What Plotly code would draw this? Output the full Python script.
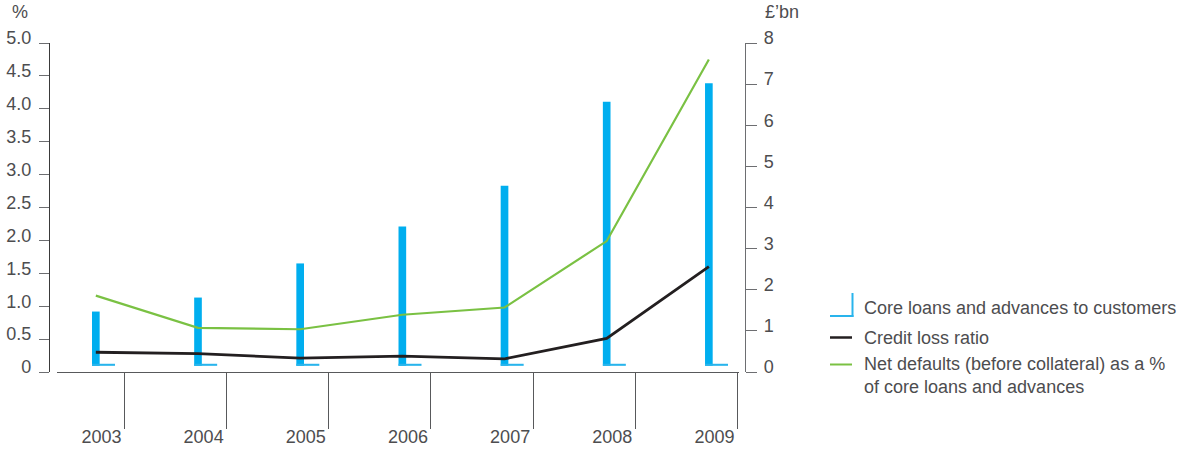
import plotly.graph_objects as go

# ---- data ----
years = [2003, 2004, 2005, 2006, 2007, 2008, 2009]
core_loans_bn = [1.47, 1.81, 2.64, 3.54, 4.53, 6.57, 7.02]        # £bn (right axis)
credit_loss_ratio = [0.30, 0.28, 0.21, 0.24, 0.20, 0.51, 1.60]    # % (left axis)
net_defaults_pct = [1.16, 0.67, 0.65, 0.87, 0.98, 1.99, 4.75]     # % (left axis)
left_ticks = [0, 0.5, 1.0, 1.5, 2.0, 2.5, 3.0, 3.5, 4.0, 4.5, 5.0]
left_labels = ["0", "0.5", "1.0", "1.5", "2.0", "2.5", "3.0", "3.5", "4.0", "4.5", "5.0"]
right_ticks = [0, 1, 2, 3, 4, 5, 6, 7, 8]
year_labels = [str(y) for y in years]

# ---- styles ----
BLUE = "#00AEEF"
FOOT_BLUE = "#29B4EC"
GREEN = "#7AC143"
BLACK = "#231F20"
TEXT = "#4D4D4F"
FONT = "Liberation Sans"
FS = 18

BAR_BASE = 0.15       # bars sit slightly above the axis in the original
BAR_W = 0.075
FOOT_W = 0.225
FOOT_H = 0.05
TICK_OFFSET = 0.28

fig = go.Figure()

# bars on the right (£bn) axis, drawn first (lower layer)
fig.add_trace(go.Bar(
    x=years, y=[v - BAR_BASE for v in core_loans_bn], base=BAR_BASE,
    width=BAR_W, marker=dict(color=BLUE, line=dict(width=0)),
    xaxis="x", yaxis="y", showlegend=False, hoverinfo="skip"))
fig.add_trace(go.Bar(
    x=years, y=[FOOT_H] * len(years), base=BAR_BASE,
    width=FOOT_W, offset=-BAR_W / 2,
    marker=dict(color=FOOT_BLUE, line=dict(width=0)),
    xaxis="x", yaxis="y", showlegend=False, hoverinfo="skip"))

# lines on the left (%) axis, overlaying
fig.add_trace(go.Scatter(
    x=years, y=net_defaults_pct, mode="lines",
    line=dict(color=GREEN, width=2.2), xaxis="x", yaxis="y2", showlegend=False))
fig.add_trace(go.Scatter(
    x=years, y=credit_loss_ratio, mode="lines",
    line=dict(color=BLACK, width=2.8), xaxis="x", yaxis="y2", showlegend=False))

L, R, T, B = 49, 435, 43, 78
pw = 1180 - L - R
XDOM = [(57 - L) / pw, (739 - L) / pw]
XRANGE = [2002.62, 2009.295]
tick_pos = [y + TICK_OFFSET for y in years]

fig.update_layout(
    width=1180, height=450,
    margin=dict(l=L, r=R, t=T, b=B, autoexpand=False),
    paper_bgcolor="white", plot_bgcolor="white",
    barmode="overlay",
    font=dict(family=FONT, size=FS, color=TEXT),
    showlegend=False,
    xaxis=dict(
        domain=XDOM, range=XRANGE,
        tickvals=tick_pos, showticklabels=False,
        ticks="outside", ticklen=56, tickwidth=1, tickcolor="#58595B",
        showline=True, linecolor="#58595B", linewidth=1,
        showgrid=False, zeroline=False, fixedrange=True, automargin=False,
    ),
    # label-only axis so the year labels sit just below the long tick lines
    xaxis2=dict(
        domain=XDOM, range=XRANGE, overlaying="x", anchor="y", side="bottom",
        tickvals=tick_pos, ticktext=year_labels,
        ticks="outside", ticklen=48, tickcolor="rgba(0,0,0,0)",
        ticklabelshift=-23,
        showline=False, showgrid=False, zeroline=False, automargin=False,
    ),
    yaxis=dict(
        range=[0, 8], tickvals=right_ticks,
        side="right", anchor="free", position=1,
        ticks="outside", ticklen=11, tickwidth=1, tickcolor="#6D6E71",
        ticklabelstandoff=3, ticklabelshift=-5,
        showline=True, linecolor="#6D6E71", linewidth=1.2,
        showgrid=False, zeroline=False, automargin=False,
    ),
    yaxis2=dict(
        range=[0, 5], tickvals=left_ticks, ticktext=left_labels,
        side="left", anchor="free", position=0, overlaying="y",
        ticks="outside", ticklen=10, tickwidth=1, tickcolor="#6D6E71",
        ticklabelstandoff=4, ticklabelshift=-5,
        showline=True, linecolor="#3A3A3A", linewidth=1.4,
        showgrid=False, zeroline=False, automargin=False,
    ),
)

# invisible trace to activate the label axis
fig.add_trace(go.Scatter(x=years, y=[None] * len(years), xaxis="x2", yaxis="y",
                         mode="markers", showlegend=False, hoverinfo="skip"))

def px_x(x):
    return (x - L) / pw

def px_y(y):
    return (450 - B - y) / (450 - T - B)

annos = [
    ("%", 20, 12, "center"),
    ("£’bn", 763, 12, "left"),
    ("Core loans and advances to customers", 862, 308, "left"),
    ("Credit loss ratio", 862, 338, "left"),
    ("Net defaults (before collateral) as a %<br>of core loans and advances", 862, 375, "left"),
]
for text, x, y, anc in annos:
    fig.add_annotation(text=text, x=px_x(x), y=px_y(y), xref="paper", yref="paper",
                       xanchor=anc, yanchor="middle", align="left", showarrow=False,
                       font=dict(family=FONT, size=FS, color=TEXT))

# legend symbols
shapes = [
    dict(type="line", x0=px_x(852.5), x1=px_x(852.5), y0=px_y(293), y1=px_y(317),
         line=dict(color=FOOT_BLUE, width=2)),
    dict(type="line", x0=px_x(830), x1=px_x(853.5), y0=px_y(316), y1=px_y(316),
         line=dict(color=FOOT_BLUE, width=2)),
    dict(type="line", x0=px_x(830), x1=px_x(852), y0=px_y(337.5), y1=px_y(337.5),
         line=dict(color=BLACK, width=2.5)),
    dict(type="line", x0=px_x(830), x1=px_x(852), y0=px_y(364.5), y1=px_y(364.5),
         line=dict(color=GREEN, width=2)),
]
for s in shapes:
    fig.add_shape(xref="paper", yref="paper", **s)

fig.write_html("out.html")
